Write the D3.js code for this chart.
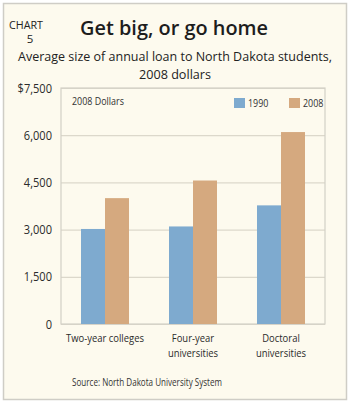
<!DOCTYPE html>
<html>
<head>
<meta charset="utf-8">
<script src="https://cdn.jsdelivr.net/npm/d3@7"></script>
<style>
  body { margin: 0; background: #fff; }
  svg { display: block; font-family: "Open Sans", "Noto Sans", sans-serif; }
</style>
</head>
<body>
<svg id="chart"></svg>
<script>
// data
var categories = ["Two-year colleges", "Four-year universities", "Doctoral universities"];
var categoryLines = [["Two-year colleges"], ["Four-year", "universities"], ["Doctoral", "universities"]];
var seriesNames = ["1990", "2008"];
var loans1990 = [3020, 3100, 3770];
var loans2008 = [4000, 4560, 6100];
var yTicks = [0, 1500, 3000, 4500, 6000, 7500];
var colors = ["#7eaacf", "#d5a97f"];

var W = 351, H = 405;
var margin = { top: 88, right: 26, bottom: 81, left: 61 },
  width = W - margin.left - margin.right,
  height = H - margin.top - margin.bottom;

// the reference uses a condensed face, so squeeze the text horizontally
function squeeze(sel, k) {
  sel.each(function () {
    var w = this.getComputedTextLength();
    d3.select(this).attr("textLength", w * k).attr("lengthAdjust", "spacingAndGlyphs");
  });
}

var svg = d3.select("#chart").attr("width", W).attr("height", H);

// panel
svg.append("rect")
  .attr("x", 3.5).attr("y", 3.5)
  .attr("width", 343).attr("height", 396)
  .attr("fill", "#fdfaee")
  .attr("stroke", "#cfcdc6")
  .attr("stroke-width", 1.5);

// heading
svg.append("text").attr("x", 9).attr("y", 29)
  .attr("font-size", 11.5).attr("fill", "#222")
  .attr("textLength", 34).attr("lengthAdjust", "spacingAndGlyphs")
  .text("CHART");
svg.append("text").attr("x", 30).attr("y", 43)
  .attr("text-anchor", "middle").attr("font-size", 11.5).attr("fill", "#222")
  .text("5");
svg.append("text").attr("x", 80).attr("y", 35)
  .attr("font-size", 19.5).attr("font-weight", 600).attr("fill", "#1d1d1d")
  .attr("textLength", 188).attr("lengthAdjust", "spacingAndGlyphs")
  .text("Get big, or go home");
svg.append("text").attr("x", 175).attr("y", 61)
  .attr("text-anchor", "middle").attr("font-size", 13).attr("fill", "#222")
  .attr("textLength", 314).attr("lengthAdjust", "spacingAndGlyphs")
  .text("Average size of annual loan to North Dakota students,");
svg.append("text").attr("x", 175).attr("y", 79)
  .attr("text-anchor", "middle").attr("font-size", 13).attr("fill", "#222")
  .attr("textLength", 72).attr("lengthAdjust", "spacingAndGlyphs")
  .text("2008 dollars");

var g = svg.append("g")
  .attr("transform", "translate(" + margin.left + "," + margin.top + ")");

var x0 = d3.scaleBand().domain(categories).range([0, width]).paddingInner(0.4545).paddingOuter(0.2273);
var x1 = d3.scaleBand().domain(seriesNames).range([0, x0.bandwidth()]);
var y = d3.scaleLinear().domain([0, 7500]).range([height, 0]);

// grid
g.append("g")
  .call(d3.axisLeft(y).tickValues(yTicks).tickSize(-width).tickFormat(""))
  .call(function (a) {
    a.select(".domain").remove();
    a.selectAll("line").attr("stroke", "#dcd8cb").attr("stroke-width", 1.2);
  });

// plot frame
g.append("rect")
  .attr("x", 0).attr("y", 0).attr("width", width).attr("height", height)
  .attr("fill", "none").attr("stroke", "#d3d0c6").attr("stroke-width", 1.2);

// bars
var rows = categories.map(function (c, i) {
  return { cat: c, vals: [loans1990[i], loans2008[i]] };
});
var grp = g.selectAll(".grp").data(rows).enter().append("g")
  .attr("class", "grp")
  .attr("transform", function (d) { return "translate(" + x0(d.cat) + ",0)"; });
grp.selectAll("rect")
  .data(function (d) { return d.vals.map(function (v, j) { return { s: seriesNames[j], v: v, j: j }; }); })
  .enter().append("rect")
  .attr("x", function (d) { return x1(d.s); })
  .attr("width", x1.bandwidth())
  .attr("y", function (d) { return y(d.v); })
  .attr("height", function (d) { return height - y(d.v); })
  .attr("fill", function (d) { return colors[d.j]; });

// y axis labels
var ya = g.append("g")
  .call(d3.axisLeft(y).tickValues(yTicks).tickSize(0).tickPadding(9)
    .tickFormat(function (d) { return d === 7500 ? "$7,500" : d3.format(",")(d); }));
ya.select(".domain").remove();
ya.selectAll("text")
  .attr("font-family", "'Open Sans', sans-serif")
  .attr("font-size", 13).attr("fill", "#2b2b2b")
  .call(squeeze, 0.85);

// x axis labels
var xa = g.append("g").attr("transform", "translate(0," + height + ")");
categories.forEach(function (c, i) {
  categoryLines[i].forEach(function (line, k) {
    xa.append("text")
      .attr("x", x0(c) + x0.bandwidth() / 2)
      .attr("y", 18 + k * 14.5)
      .attr("text-anchor", "middle")
      .attr("font-size", 11.5).attr("fill", "#2b2b2b")
      .text(line)
      .call(squeeze, 0.82);
  });
});

// in-plot note
g.append("text").attr("x", 11).attr("y", 17)
  .attr("font-size", 10.5).attr("fill", "#333")
  .text("2008 Dollars")
  .call(squeeze, 0.85);

// legend
var legX = [173, 228];
seriesNames.forEach(function (s, i) {
  g.append("rect")
    .attr("x", legX[i]).attr("y", 10)
    .attr("width", 11).attr("height", 10)
    .attr("fill", colors[i]);
  g.append("text")
    .attr("x", legX[i] + 14).attr("y", 19)
    .attr("font-size", 10.5).attr("fill", "#333")
    .text(s)
    .call(squeeze, 0.85);
});

// source
svg.append("text").attr("x", 72).attr("y", 386)
  .attr("font-size", 11).attr("fill", "#333")
  .attr("textLength", 150).attr("lengthAdjust", "spacingAndGlyphs")
  .text("Source: North Dakota University System");
</script>
</body>
</html>
